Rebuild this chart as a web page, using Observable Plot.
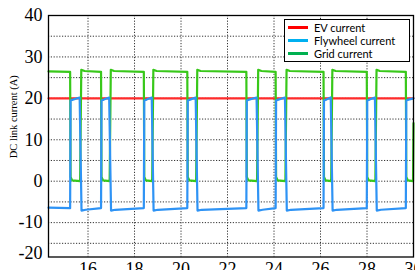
<!DOCTYPE html>
<html>
<head>
<meta charset="utf-8">
<script src="https://cdn.jsdelivr.net/npm/d3@7"></script>
<script src="https://cdn.jsdelivr.net/npm/@observablehq/plot@0.6"></script>
<style>
  html, body { margin: 0; padding: 0; background: #fff; overflow: hidden; }
  #wrap { position: relative; width: 415px; height: 270px; }
  #legend { position: absolute; left: 284px; top: 19px; width: 124px; height: 41px;
    border: 1px solid #000; background: #fff; box-sizing: content-box;
    font-family: Lato, "Liberation Sans", sans-serif; font-size: 11px; color: #000; }
  .row { position: absolute; left: 0; height: 13px; line-height: 13px; white-space: nowrap; }
  .sw { position: absolute; left: 3px; top: 5px; width: 20px; height: 3px; }
  .lab { position: absolute; left: 29px; top: 0; }
</style>
</head>
<body>
<div id="wrap"><div id="chart"></div><div id="legend"></div></div>
<script>
// ---- data ----
const xDomain = [14.3, 30];
const yDomain = [-18.3, 40];
const xTicks = [16, 18, 20, 22, 24, 26, 28, 30];
const yTicks = [-10, 0, 10, 20, 30, 40];
const yBottomLabel = "-20";
const xGridLines = [16, 18, 20, 22, 24, 26, 28];
const yGridLines = [-15, -10, -5, 0, 5, 10, 15, 20, 25, 30, 35];
const yLabel = "DC link current (A)";

const seriesNames = ["EV current", "Flywheel current", "Grid current"];
const lineColors = ["#ff2b2b", "#2e93f5", "#38c81a"];
const legendColors = ["#ff0000", "#00b0f0", "#00b050"];

const evT = [14.3, 30.0];
const evA = [20, 20];

const gridT = [14.30, 15.23, 15.25, 15.32, 15.66, 15.71, 15.85,
  16.56, 16.58, 16.65, 16.93, 16.98, 17.12,
  18.40, 18.42, 18.49, 18.76, 18.81, 18.95,
  20.27, 20.29, 20.36, 20.65, 20.70, 20.84,
  22.81, 22.83, 22.90, 23.27, 23.32, 23.46,
  24.07, 24.09, 24.16, 24.49, 24.54, 24.68,
  26.13, 26.15, 26.22, 26.46, 26.51, 26.65,
  27.99, 28.01, 28.08, 28.36, 28.41, 28.55,
  29.67, 29.69, 29.76, 29.98, 30.00];
const gridA = [26.5, 26.4, 1.0, 0.2, 0.0, 26.9, 26.6,
  26.4, 1.0, 0.2, 0.0, 26.9, 26.6,
  26.4, 1.0, 0.2, 0.0, 26.9, 26.6,
  26.4, 1.0, 0.2, 0.0, 26.9, 26.6,
  26.4, 1.0, 0.2, 0.0, 26.9, 26.6,
  26.4, 1.0, 0.2, 0.0, 26.9, 26.6,
  26.4, 1.0, 0.2, 0.0, 26.9, 26.6,
  26.4, 1.0, 0.2, 0.0, 26.9, 26.6,
  26.4, 1.0, 0.2, 0.0, 14.0];

const flyT = [14.30, 15.23, 15.25, 15.35, 15.64, 15.72, 15.90,
  16.56, 16.58, 16.68, 16.91, 16.99, 17.17,
  18.40, 18.42, 18.52, 18.74, 18.82, 19.00,
  20.27, 20.29, 20.39, 20.63, 20.71, 20.89,
  22.81, 22.83, 22.93, 23.25, 23.33, 23.51,
  24.07, 24.09, 24.19, 24.47, 24.55, 24.73,
  26.13, 26.15, 26.25, 26.44, 26.52, 26.70,
  27.99, 28.01, 28.11, 28.34, 28.42, 28.60,
  29.67, 29.69, 29.79, 30.00];
const flyA = [-6.4, -6.5, 19.5, 19.7, 20.2, -7.1, -6.9,
  -6.5, 19.5, 19.7, 20.2, -7.1, -6.9,
  -6.5, 19.5, 19.7, 20.2, -7.1, -6.9,
  -6.5, 19.5, 19.7, 20.2, -7.1, -6.9,
  -6.5, 19.5, 19.7, 20.2, -7.1, -6.9,
  -6.5, 19.5, 19.7, 20.2, -7.1, -6.9,
  -6.5, 19.5, 19.7, 20.2, -7.1, -6.9,
  -6.5, 19.5, 19.7, 20.2, -7.1, -6.9,
  -6.5, 19.5, 19.7, 20.0];

const toRows = (T, A) => T.map((t, i) => ({t, v: A[i]}));
const evRows = toRows(evT, evA);
const gridRows = toRows(gridT, gridA);
const flyRows = toRows(flyT, flyA);

const serif = "'Liberation Serif', 'DejaVu Serif', serif";
const gridStyle = {stroke: "#333", strokeOpacity: 1, strokeWidth: 1, strokeDasharray: "1.2,1.6"};

const chart = Plot.plot({
  width: 415, height: 270,
  marginLeft: 48, marginTop: 15, marginRight: 2, marginBottom: 13.5,
  x: {domain: xDomain},
  y: {domain: yDomain},
  style: {background: "white", fontFamily: serif, color: "#000"},
  marks: [
    Plot.gridX(xGridLines, gridStyle),
    Plot.gridY(yGridLines, gridStyle),
    Plot.line(evRows, {x: "t", y: "v", stroke: lineColors[0], strokeWidth: 2.2}),
    Plot.line(gridRows, {x: "t", y: "v", stroke: lineColors[2], strokeWidth: 2.2, strokeLinejoin: "round"}),
    Plot.line(flyRows, {x: "t", y: "v", stroke: lineColors[1], strokeWidth: 2.2, strokeLinejoin: "round"}),
    Plot.frame({stroke: "#000", strokeWidth: 1.3}),
    Plot.axisY(yTicks, {tickSize: 0, tickPadding: 6, fontSize: 18, label: null, tickFormat: d => String(d)}),
    Plot.text([yBottomLabel], {frameAnchor: "bottom-left", textAnchor: "end", dx: -6, dy: 2, fontSize: 18}),
    Plot.axisX(xTicks, {tickSize: 0, tickPadding: 5, fontSize: 18, label: null, tickFormat: d => String(d)}),
    Plot.text([yLabel], {frameAnchor: "left", rotate: -90, dx: -35, dy: 22, fontSize: 10.5})
  ]
});
document.getElementById("chart").appendChild(chart);

const legend = document.getElementById("legend");
seriesNames.forEach((name, i) => {
  const row = document.createElement("div");
  row.className = "row";
  row.style.top = (1 + 13 * i) + "px";
  row.style.width = "124px";
  const sw = document.createElement("div");
  sw.className = "sw";
  sw.style.background = legendColors[i];
  const lab = document.createElement("div");
  lab.className = "lab";
  lab.textContent = name;
  row.appendChild(sw); row.appendChild(lab);
  legend.appendChild(row);
});
</script>
</body>
</html>
